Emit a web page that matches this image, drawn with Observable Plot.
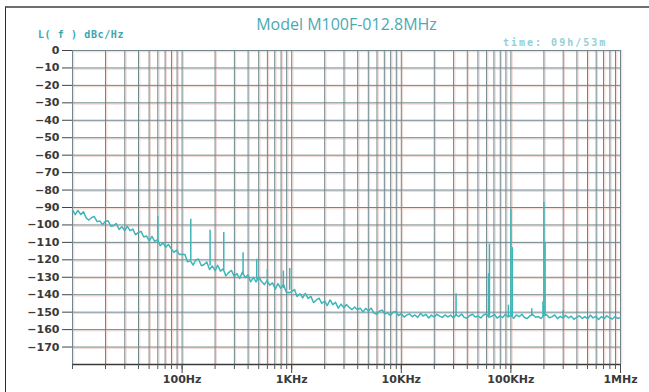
<!DOCTYPE html>
<html><head><meta charset="utf-8">
<script src="https://cdn.jsdelivr.net/npm/d3@7"></script>
<script src="https://cdn.jsdelivr.net/npm/@observablehq/plot@0.6"></script>
<style>
body{margin:0;background:#fff;}
#wrap{position:relative;width:649px;height:392px;overflow:hidden;background:#fff;}
#frame{position:absolute;left:5px;top:6px;width:660px;height:400px;border-top:2px solid #6e6e6e;border-left:1px solid #2a2a2a;}
.t{position:absolute;white-space:nowrap;}
#chart{position:absolute;left:0;top:0;}
</style></head><body>
<div id="wrap">
<div id="frame"></div>
<div id="chart"></div>
<div class="t" style="left:0;width:693px;top:16px;text-align:center;font:16px/16px 'Open Sans';color:#4aa9b4;">Model M100F-012.8MHz</div>
<div class="t" style="left:38px;top:30px;font:bold 10px/10px 'DejaVu Sans Mono';letter-spacing:0.6px;color:#3aa8b0;">L( f ) dBc/Hz</div>
<div class="t" style="left:503px;top:38px;font:bold 10px/10px 'DejaVu Sans Mono';letter-spacing:2px;color:#93d0d6;">time: 09h/53m</div>
</div>
<script>
// Offset frequencies (Hz), one array per decade
const freq10 = [10,10.6,11.2,11.9,12.6,13.3,14.1,15,15.8,16.8,17.8,18.8,20,21.1,22.4,23.7,25.1,26.6,28.2,29.9,31.6,33.5,35.5,37.6,39.8,42.2,44.7,47.3,50.1,53.1,56.2,59.6,63.1,66.8,70.8,75,79.4,84.1,89.1,94.4];
const freq100 = [100,106,112,119,126,133,141,150,158,168,178,188,200,211,224,237,251,266,282,299,316,335,355,376,398,422,447,473,501,531,562,596,631,668,708,750,794,841,891,944];
const freq1k = [1000,1060,1120,1190,1260,1330,1410,1500,1580,1680,1780,1880,2000,2110,2240,2370,2510,2660,2820,2990,3160,3350,3550,3760,3980,4220,4470,4730,5010,5310,5620,5960,6310,6680,7080,7500,7940,8410,8910,9440];
const freq10k = [10000,10600,11200,11900,12600,13300,14100,15000,15800,16800,17800,18800,20000,21100,22400,23700,25100,26600,28200,29900,31600,33500,35500,37600,39800,42200,44700,47300,50100,53100,56200,59600,63100,66800,70800,75000,79400,84100,89100,94400];
const freq100k = [100000,106000,112000,119000,126000,133000,141000,150000,158000,168000,178000,188000,200000,211000,224000,237000,251000,266000,282000,299000,316000,335000,355000,376000,398000,422000,447000,473000,501000,531000,562000,596000,631000,668000,708000,750000,794000,841000,891000,944000,1000000];

// Phase noise L(f) in dBc/Hz
const level10 = [-91.3,-94.1,-91.7,-94.0,-92.4,-95.9,-97.2,-95.7,-95.2,-98.1,-97.8,-99.8,-97.9,-97.6,-100.7,-100.4,-99.2,-102.6,-101.0,-103.2,-100.7,-103.3,-102.4,-105.6,-104.4,-103.7,-106.9,-106.3,-109.1,-106.6,-109.4,-108.5,-111.9,-110.3,-112.7,-111.2,-113.6,-115.7,-114.4,-116.9];
const level100 = [-116.8,-116.9,-121.1,-120.6,-123.0,-120.1,-119.5,-123.4,-122.8,-121.2,-125.6,-123.5,-126.2,-123.1,-126.5,-125.2,-129.2,-127.3,-126.1,-129.5,-127.8,-130.7,-127.0,-130.2,-128.7,-132.6,-130.1,-132.6,-130.0,-132.4,-134.2,-131.9,-134.5,-133.2,-136.8,-133.6,-136.3,-134.1,-138.4,-138.9];
const level1k = [-138.2,-137.0,-141.0,-139.4,-141.8,-139.2,-142.1,-141.0,-144.5,-143.0,-142.0,-145.0,-143.6,-146.2,-143.0,-145.7,-144.4,-147.7,-145.4,-147.5,-145.6,-147.3,-148.5,-147.0,-148.6,-147.7,-149.9,-147.8,-149.3,-147.7,-150.4,-151.2,-149.5,-148.8,-150.9,-150.4,-151.9,-150.0,-149.6,-152.0];
const level10k = [-150.9,-152.8,-151.7,-151.0,-152.6,-151.6,-153.0,-150.8,-152.2,-151.3,-153.3,-151.7,-152.8,-151.2,-152.3,-153.0,-151.6,-152.7,-151.7,-153.3,-151.5,-152.5,-151.1,-153.0,-153.5,-151.9,-151.2,-152.8,-152.2,-153.3,-151.6,-151.1,-152.9,-152.4,-151.3,-153.4,-152.1,-153.1,-151.2,-152.7];
const level100k = [-151.9,-153.5,-151.6,-152.6,-151.2,-153.1,-153.6,-152.0,-151.3,-152.9,-152.5,-153.6,-151.9,-151.4,-153.2,-152.7,-151.6,-153.7,-152.4,-153.4,-151.8,-153.3,-152.3,-154.1,-152.9,-152.1,-153.6,-152.5,-153.9,-151.7,-153.3,-152.4,-154.2,-152.6,-153.7,-152.1,-153.2,-153.9,-152.5,-153.6,-153.0];

// Discrete spurs: frequency, floor level, peak level
const spurFreq = [60,120,180,240,360,480,600,840,960,31600,62500,63700,95000,100000,103000,155000,196000,200000,205000,300000];
const spurBase = [-110.5,-120.5,-123.5,-126,-129,-131.5,-133,-136.5,-137.5,-152,-152.5,-152.5,-152.5,-152.5,-152.5,-152.5,-152.5,-152.5,-152.5,-153];
const spurPeak = [-95.3,-96.8,-103,-104.4,-115.9,-119.7,-125.5,-126.4,-125,-139.5,-128,-111,-146,-91,-113,-148,-144,-87,-110,-149];

// Axis labels
const yTicks = [0,-10,-20,-30,-40,-50,-60,-70,-80,-90,-100,-110,-120,-130,-140,-150,-160,-170];
const xLabelFreq = [100,1000,10000,100000,1000000];
const xLabelText = ["100Hz","1KHz","10KHz","100KHz","1MHz"];

const freqs = [...freq10,...freq100,...freq1k,...freq10k,...freq100k];
const levels = [...level10,...level100,...level1k,...level10k,...level100k];
const noise = freqs.map((f,i)=>({f, l: levels[i]}));
const spurs = spurFreq.map((f,i)=>({f, b: spurBase[i], p: spurPeak[i]}));

const gridF = [];
[10,100,1000,10000,100000].forEach(d=>{for(let m=1;m<=9;m++) gridF.push(d*m);});
gridF.push(1000000);

const pink = "#f1d6cf";
const gray = "#6f868d";
const teal = "#3db6b8";

const chart = Plot.plot({
  width: 649, height: 392,
  marginLeft: 72, marginRight: 29, marginTop: 50, marginBottom: 28,
  style: {fontFamily: "DejaVu Sans", fontSize: "11px", fontWeight: "bold", color: "#3a3a3a", background: "transparent", overflow: "visible"},
  x: {type: "log", domain: [10, 1e6]},
  y: {domain: [-180, 0]},
  marks: [
    Plot.ruleY(yTicks, {stroke: pink, dy: 1.3, strokeWidth: 1}),
    Plot.ruleX(gridF, {stroke: pink, dx: 1.3, strokeWidth: 1}),
    Plot.ruleY(yTicks, {stroke: gray, strokeWidth: 1}),
    Plot.ruleX(gridF, {stroke: gray, strokeWidth: 1}),
    Plot.line(noise, {x: "f", y: "l", stroke: teal, strokeWidth: 1.5}),
    Plot.ruleX(spurs, {x: "f", y1: "b", y2: "p", stroke: teal, strokeWidth: 1.5}),
    Plot.ruleY([-180], {stroke: "#3a3a3a", strokeWidth: 1.6}),
    Plot.axisY({ticks: yTicks, tickSize: 10, tickPadding: 3, label: null, stroke: "#444"}),
    Plot.axisX({ticks: gridF, tickSize: 5, tickFormat: () => "", label: null, stroke: "#555"}),
    Plot.axisX({ticks: xLabelFreq, tickSize: 9, tickPadding: 2, tickFormat: d => xLabelText[xLabelFreq.indexOf(d)], label: null, stroke: "#444"})
  ]
});
document.getElementById("chart").appendChild(chart);
</script>
</body></html>
